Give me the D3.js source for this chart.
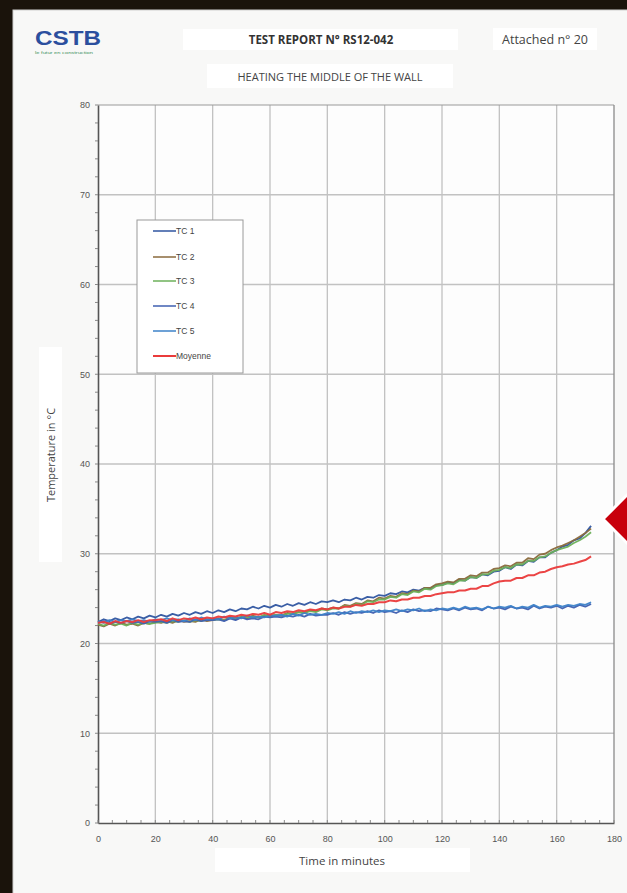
<!DOCTYPE html>
<html>
<head>
<meta charset="utf-8">
<script src="https://cdn.jsdelivr.net/npm/d3@7"></script>
<style>
  html, body { margin: 0; padding: 0; background: #1a130b; }
  svg { display: block; }
</style>
</head>
<body>
<svg id="chart" width="627" height="893"></svg>
<script>
// Sample times (minutes)
const timeMin = [0,2,4,6,8,10,12,14,16,18,20,22,24,26,28,30,32,34,36,38,40,42,44,46,48,50,52,54,56,58,60,62,64,66,68,70,72,74,76,78,80,82,84,86,88,90,92,94,96,98,100,102,104,106,108,110,112,114,116,118,120,122,124,126,128,130,132,134,136,138,140,142,144,146,148,150,152,154,156,158,160,162,164,166,168,170,172];

// Thermocouple readings (°C)
const tc1 = [22.4,22.7,22.5,22.8,22.6,22.9,22.7,23.0,22.8,23.1,22.9,
  23.2,23.0,23.3,23.1,23.4,23.2,23.5,23.3,23.6,23.4,
  23.7,23.5,23.8,23.6,23.9,23.8,24.1,23.9,24.2,24.0,
  24.3,24.1,24.4,24.2,24.5,24.3,24.6,24.4,24.7,24.6,
  24.8,24.6,24.9,24.8,25.1,24.9,25.2,25.1,25.4,25.3,
  25.6,25.5,25.8,25.7,26.0,25.9,26.2,26.1,26.5,26.5,
  26.8,26.7,27.1,27.0,27.4,27.3,27.7,27.6,28.0,28.1,
  28.5,28.3,28.8,28.7,29.2,29.1,29.6,29.6,30.1,30.4,
  30.8,31.0,31.5,31.7,32.3,33.1];
const tc2 = [22.1,21.9,22.2,22.0,22.3,22.1,22.2,22.0,22.3,22.2,22.4,
  22.3,22.5,22.3,22.6,22.4,22.5,22.4,22.7,22.5,22.6,
  22.8,22.6,22.9,22.7,22.9,22.8,23.1,22.9,23.1,23.0,
  23.2,23.1,23.4,23.3,23.5,23.4,23.7,23.6,23.9,23.8,
  24.0,23.9,24.3,24.2,24.5,24.4,24.8,24.7,25.1,25.0,
  25.3,25.2,25.6,25.5,25.9,25.8,26.2,26.2,26.6,26.7,
  26.9,26.8,27.2,27.2,27.6,27.5,27.9,27.9,28.3,28.4,
  28.7,28.6,29.0,29.0,29.5,29.4,29.9,30.0,30.4,30.7,
  30.9,31.2,31.5,31.9,32.3,32.8];
const tc3 = [22.2,22.0,22.3,22.1,22.2,22.0,22.3,22.1,22.3,22.2,22.3,
  22.4,22.3,22.5,22.4,22.6,22.4,22.6,22.5,22.7,22.6,
  22.7,22.6,22.8,22.8,23.0,22.9,23.0,22.9,23.2,23.1,
  23.2,23.1,23.3,23.3,23.5,23.4,23.6,23.5,23.8,23.7,
  23.9,23.9,24.2,24.1,24.4,24.3,24.7,24.6,24.9,24.9,
  25.2,25.1,25.5,25.4,25.8,25.7,26.1,26.0,26.4,26.5,
  26.7,26.6,27.0,27.0,27.4,27.3,27.7,27.7,28.1,28.2,
  28.5,28.4,28.8,28.8,29.2,29.2,29.6,29.7,30.1,30.4,
  30.6,30.8,31.2,31.5,31.9,32.4];
const tc4 = [22.3,22.5,22.2,22.4,22.3,22.5,22.3,22.4,22.2,22.5,22.4,
  22.5,22.3,22.6,22.4,22.5,22.4,22.7,22.5,22.6,22.6,
  22.7,22.5,22.8,22.6,22.9,22.7,22.8,22.7,23.0,22.9,
  23.0,22.9,23.1,23.0,23.2,23.0,23.3,23.1,23.2,23.2,
  23.4,23.2,23.5,23.3,23.5,23.4,23.6,23.4,23.7,23.5,
  23.6,23.4,23.7,23.5,23.8,23.6,23.7,23.6,23.9,23.8,
  23.7,23.9,23.7,24.0,23.8,23.9,23.7,24.1,23.9,24.0,
  23.8,24.1,23.9,24.0,23.8,24.2,23.9,24.1,24.0,24.2,
  23.9,24.2,24.0,24.3,24.1,24.4];
const tc5 = [22.5,22.3,22.6,22.4,22.6,22.5,22.7,22.5,22.6,22.4,22.7,
  22.6,22.8,22.6,22.7,22.5,22.8,22.6,22.9,22.7,22.8,
  22.7,23.0,22.8,22.9,22.8,23.1,22.9,23.0,22.9,23.1,
  23.1,23.2,23.0,23.3,23.1,23.4,23.2,23.3,23.2,23.4,
  23.3,23.5,23.3,23.6,23.4,23.6,23.5,23.7,23.5,23.7,
  23.6,23.8,23.6,23.8,23.7,23.9,23.6,23.8,23.7,23.9,
  23.8,24.0,23.8,24.1,23.9,24.0,23.8,24.1,23.9,24.1,
  24.0,24.2,23.9,24.1,24.0,24.3,24.0,24.2,24.1,24.3,
  24.1,24.3,24.2,24.4,24.3,24.6];
const moyenne = [22.3,22.4,22.2,22.5,22.3,22.5,22.4,22.6,22.4,22.6,22.6,
  22.7,22.5,22.8,22.6,22.8,22.7,22.9,22.7,22.9,22.8,
  23.0,22.9,23.1,23.0,23.2,23.1,23.3,23.2,23.4,23.2,
  23.5,23.4,23.6,23.5,23.7,23.6,23.8,23.7,23.9,23.8,
  24.0,23.9,24.1,24.1,24.3,24.2,24.4,24.4,24.6,24.6,
  24.8,24.7,24.9,24.9,25.1,25.1,25.3,25.3,25.5,25.6,
  25.7,25.7,25.9,25.9,26.1,26.1,26.4,26.4,26.7,26.9,
  27.0,27.0,27.3,27.3,27.6,27.6,27.9,28.0,28.3,28.5,
  28.6,28.8,28.9,29.1,29.3,29.7];

const seriesNames = ["TC 1", "TC 2", "TC 3", "TC 4", "TC 5", "Moyenne"];
const seriesValues = [tc1, tc2, tc3, tc4, tc5, moyenne];
const seriesColors = ["#2f55a0", "#8a6a3c", "#6db05a", "#3f5fb0", "#3d82c8", "#ea3b3b"];

const xTicks = [0, 20, 40, 60, 80, 100, 120, 140, 160, 180];
const yTicks = [0, 10, 20, 30, 40, 50, 60, 70, 80];

const svg = d3.select("#chart");

// Sheet on a dark desk
svg.append("rect").attr("x", 0).attr("y", 0).attr("width", 627).attr("height", 893).attr("fill", "#1a130b");
svg.append("rect").attr("x", 13).attr("y", 10).attr("width", 620).attr("height", 890)
  .attr("fill", "#f8f8f7").attr("stroke", "#cfcfcf").attr("stroke-width", 1);

// Header
const logo = svg.append("g");
logo.append("text").attr("x", 35).attr("y", 45).attr("textLength", 66).attr("lengthAdjust", "spacingAndGlyphs")
  .attr("font-family", "Liberation Sans, Arial, sans-serif").attr("font-weight", "bold").attr("font-size", 20)
  .attr("fill", "#2b4f9e").text("CSTB");
logo.append("text").attr("x", 35).attr("y", 54).attr("textLength", 58).attr("lengthAdjust", "spacingAndGlyphs")
  .attr("font-family", "Liberation Sans, Arial, sans-serif").attr("font-size", 3.5)
  .attr("fill", "#3a8f5a").text("le futur en construction");

function labelBox(x, y, w, h) {
  svg.append("rect").attr("x", x).attr("y", y).attr("width", w).attr("height", h).attr("fill", "#ffffff");
}
labelBox(183, 29, 275, 21);
svg.append("text").attr("x", 321).attr("y", 44).attr("text-anchor", "middle")
  .attr("font-family", "Open Sans, sans-serif").attr("font-weight", "bold").attr("font-size", 11.5)
  .attr("fill", "#333").text("TEST REPORT N° RS12-042");
labelBox(493, 28, 104, 22);
svg.append("text").attr("x", 545).attr("y", 44).attr("text-anchor", "middle")
  .attr("font-family", "Open Sans, sans-serif").attr("font-size", 12.5)
  .attr("fill", "#444").text("Attached n° 20");
labelBox(207, 64, 246, 24);
svg.append("text").attr("x", 330).attr("y", 80.5).attr("text-anchor", "middle")
  .attr("font-family", "Open Sans, sans-serif").attr("font-size", 11)
  .attr("fill", "#444").text("HEATING THE MIDDLE OF THE WALL");

// Plot area
const x = d3.scaleLinear().domain([0, 180]).range([98, 614]);
const y = d3.scaleLinear().domain([0, 80]).range([823, 105]);

const plot = svg.append("g");
plot.append("rect").attr("x", x(0)).attr("y", y(80)).attr("width", x(180) - x(0)).attr("height", y(0) - y(80))
  .attr("fill", "#fdfdfd");

// Grid
plot.append("g").selectAll("line").data(xTicks.filter(d => d > 0 && d < 180)).join("line")
  .attr("x1", d => x(d)).attr("x2", d => x(d)).attr("y1", y(0)).attr("y2", y(80))
  .attr("stroke", "#c2c2c2").attr("stroke-width", 1.3);
plot.append("g").selectAll("line").data(yTicks.filter(d => d > 0 && d < 80)).join("line")
  .attr("x1", x(0)).attr("x2", x(180)).attr("y1", d => y(d)).attr("y2", d => y(d))
  .attr("stroke", "#c2c2c2").attr("stroke-width", 1.3);
// Frame top/right
plot.append("line").attr("x1", x(0)).attr("x2", x(180)).attr("y1", y(80)).attr("y2", y(80))
  .attr("stroke", "#9a9a9a").attr("stroke-width", 1.2);
plot.append("line").attr("x1", x(180)).attr("x2", x(180)).attr("y1", y(80)).attr("y2", y(0))
  .attr("stroke", "#8a8a8a").attr("stroke-width", 1.3);

// Axes
const tickFont = "Liberation Sans, Arial, sans-serif";
const xAxis = d3.axisBottom(x).tickValues(xTicks).tickSize(0).tickPadding(13).tickFormat(d3.format("d"));
const gx = svg.append("g").attr("transform", `translate(0,${y(0)})`).call(xAxis);
gx.select(".domain").attr("stroke", "#555").attr("stroke-width", 1.6);
gx.selectAll("text").attr("font-family", tickFont).attr("font-size", 9).attr("fill", "#555");

const yAxis = d3.axisLeft(y).tickValues(yTicks).tickSize(0).tickPadding(8).tickFormat(d3.format("d"));
const gy = svg.append("g").attr("transform", `translate(${x(0)},0)`).call(yAxis);
gy.select(".domain").attr("stroke", "#555").attr("stroke-width", 1.6);
gy.selectAll("text").attr("font-family", tickFont).attr("font-size", 9).attr("fill", "#555");

// Minor ticks
const yMinor = d3.range(0, 81, 2);
svg.append("g").selectAll("line").data(yMinor).join("line")
  .attr("x1", x(0) - 3).attr("x2", x(0)).attr("y1", d => y(d)).attr("y2", d => y(d))
  .attr("stroke", "#888").attr("stroke-width", 1);
const xMinor = d3.range(0, 181, 5);
svg.append("g").selectAll("line").data(xMinor).join("line")
  .attr("x1", d => x(d)).attr("x2", d => x(d)).attr("y1", y(0) - 3).attr("y2", y(0))
  .attr("stroke", "#888").attr("stroke-width", 1);

// Curves
const line = d3.line().x((d, i) => x(timeMin[i])).y(d => y(d)).curve(d3.curveLinear);
const curves = svg.append("g");
seriesValues.forEach((vals, k) => {
  curves.append("path").datum(vals).attr("d", line)
    .attr("fill", "none").attr("stroke", seriesColors[k])
    .attr("stroke-width", k === 5 ? 2 : 1.8).attr("stroke-linejoin", "round")
    .attr("opacity", 0.95);
});

// Legend
const legend = svg.append("g");
legend.append("rect").attr("x", 137).attr("y", 220).attr("width", 106).attr("height", 153)
  .attr("fill", "#ffffff").attr("stroke", "#9a9a9a").attr("stroke-width", 1);
const legendY = [231, 257, 281, 306, 331, 356];
seriesNames.forEach((name, k) => {
  legend.append("line").attr("x1", 153).attr("x2", 176).attr("y1", legendY[k]).attr("y2", legendY[k])
    .attr("stroke", seriesColors[k]).attr("stroke-width", k === 5 ? 2 : 1.5);
  legend.append("text").attr("x", 176).attr("y", legendY[k] + 3).attr("font-family", tickFont)
    .attr("font-size", 8.5).attr("fill", "#444").text(name);
});

// Axis titles
labelBox(215, 848, 255, 24);
svg.append("text").attr("x", 342).attr("y", 865).attr("text-anchor", "middle")
  .attr("font-family", "Open Sans, sans-serif").attr("font-size", 11.5)
  .attr("fill", "#444").text("Time in minutes");
labelBox(39, 347, 23, 215);
svg.append("text").attr("transform", "translate(55,455) rotate(-90)").attr("text-anchor", "middle")
  .attr("font-family", "Open Sans, sans-serif").attr("font-size", 11)
  .attr("fill", "#444").text("Temperature in °C");

// Pointer at the right edge
svg.append("polygon").attr("points", "603,519 632,490 632,548")
  .attr("fill", "#c8000c").attr("stroke", "#ffffff").attr("stroke-width", 3).attr("stroke-linejoin", "miter");
</script>
</body>
</html>
